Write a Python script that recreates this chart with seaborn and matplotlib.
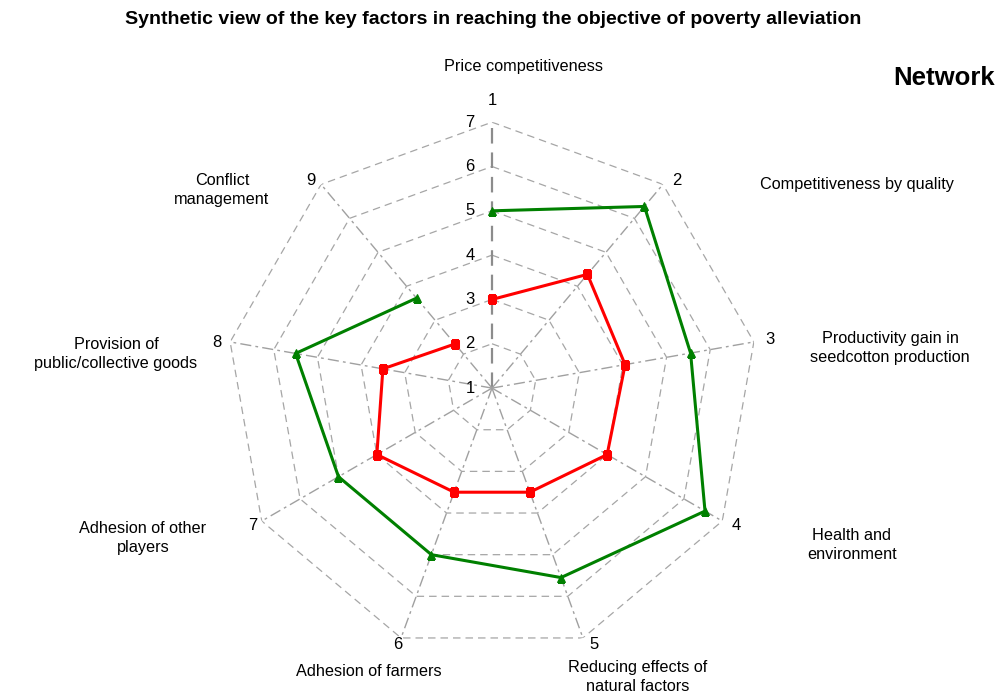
import numpy as np
import pandas as pd
import matplotlib
matplotlib.use("Agg")
import matplotlib.pyplot as plt
import seaborn as sns

# chart values
axis_ids = ["1", "2", "3", "4", "5", "6", "7", "8", "9"]
green_values = [5.0, 6.35, 5.55, 6.55, 5.55, 5.0, 5.0, 5.5, 3.65]
red_values = [3.0, 4.35, 4.05, 4.0, 3.5, 3.5, 4.0, 3.5, 2.3]
grid_levels = [2, 3, 4, 5, 6, 7]
tick_labels = ["1", "2", "3", "4", "5", "6", "7"]
category_labels = [
    "Price competitiveness",
    "Competitiveness by quality",
    "Productivity gain in\nseedcotton production",
    "Health and\nenvironment",
    "Reducing effects of\nnatural factors",
    "Adhesion of farmers",
    "Adhesion of other\nplayers",
    "Provision of\npublic/collective goods",
    "Conflict\nmanagement",
]

sns.set_theme(style="white")
plt.rcParams["font.family"] = ["Liberation Sans", "DejaVu Sans"]
plt.rcParams["text.color"] = "black"

n = len(axis_ids)
theta = np.linspace(0, 2 * np.pi, n, endpoint=False)
theta_closed = np.append(theta, theta[0])

fig = plt.figure(figsize=(10, 6.97), dpi=100)
ax = fig.add_axes([0.226, 0.0617, 0.532, 0.763], projection="polar")
ax.set_theta_zero_location("N")
ax.set_theta_direction(-1)
ax.set_ylim(1, 7)
ax.grid(False)
ax.spines["polar"].set_visible(False)
ax.set_xticks([])
ax.set_yticks([])

# grid polygons
for lev in grid_levels:
    ax.plot(theta_closed, [lev] * (n + 1), ls=(0, (6, 4)), color="#a6a6a6", lw=0.9, zorder=1)

# spokes
for i, t in enumerate(theta):
    if i == 0:
        ax.plot([t, t], [1, 7], ls=(0, (7, 4)), color="#8c8c8c", lw=1.6, zorder=1)
    else:
        ax.plot([t, t], [1, 7], ls=(0, (8, 3, 2, 3)), color="#a0a0a0", lw=1.0, zorder=1)

# series
df_green = pd.DataFrame({"theta": theta_closed, "value": green_values + green_values[:1]})
df_red = pd.DataFrame({"theta": theta_closed, "value": red_values + red_values[:1]})
sns.lineplot(data=df_green, x="theta", y="value", sort=False, ax=ax, color="#008000",
             lw=2.2, marker="^", markersize=6, markeredgecolor="#008000", zorder=3)
sns.lineplot(data=df_red, x="theta", y="value", sort=False, ax=ax, color="#ff0000",
             lw=2.2, marker="s", markersize=5.5, markeredgecolor="#ff0000", zorder=3)
ax.set_xlabel("")
ax.set_ylabel("")

# radial tick labels along the first axis
for lab in tick_labels:
    ax.annotate(lab, xy=(0, float(lab)), xytext=(-22, 0), textcoords="offset pixels",
                ha="center", va="center", fontsize=12, color="black")

# axis numbers at the outer vertices
num_offsets = [(0, 22), (14, 4), (16, 2), (14, -4), (11, -7), (-3, -7), (-9, -4), (-13, -1), (-10, 4)]
for t, lab, off in zip(theta, axis_ids, num_offsets):
    ax.annotate(lab, xy=(t, 7), xytext=off, textcoords="offset pixels",
                ha="center", va="center", fontsize=12, color="black", annotation_clip=False)

# category names
cat_pos = [(524, 67), (857, 184), (890, 348), (852, 545), (638, 677),
           (369, 672), (143, 538), (116, 354), (222, 190)]
for lab, (px, py) in zip(category_labels, cat_pos):
    fig.text(px / 1000, 1 - py / 697, lab, ha="center", va="center",
             fontsize=11.7, linespacing=1.38, color="black")

fig.text(0.493, 1 - 20 / 697, "Synthetic view of the key factors in reaching the objective of poverty alleviation",
         ha="center", va="center", fontsize=14, fontweight="bold", color="black")
fig.text(0.995, 1 - 78 / 697, "Network", ha="right", va="center", fontsize=18.5,
         fontweight="bold", color="black")

fig.savefig("out.png", dpi=100)
